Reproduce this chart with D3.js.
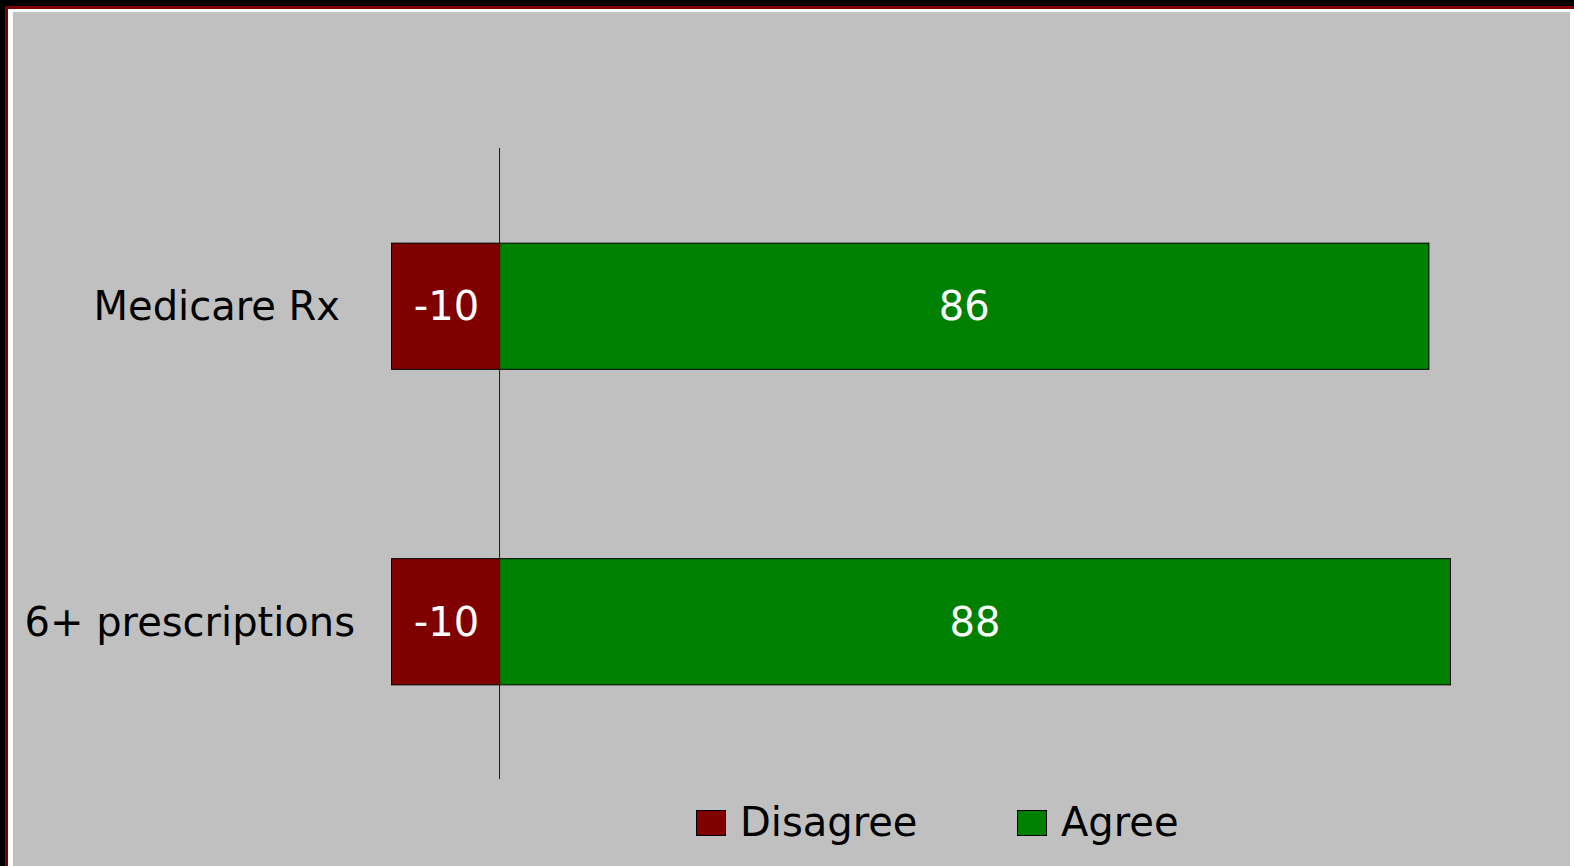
<!DOCTYPE html>
<html>
<head>
<meta charset="utf-8">
<script src="https://cdn.jsdelivr.net/npm/d3@7"></script>
<style>
  html, body { margin: 0; padding: 0; background: #000; }
  svg { display: block; }
  text { font-family: "DejaVu Sans", Verdana, sans-serif; }
</style>
</head>
<body>
<svg id="chart" width="1574" height="866"></svg>
<script>
// ---- data ----
const categories = ["Medicare Rx", "6+ prescriptions"];
const disagreeValues = [-10, -10];
const agreeValues = [86, 88];
const seriesNames = ["Disagree", "Agree"];
const seriesColors = ["#800000", "#008000"];

// ---- layout ----
const W = 1574, H = 866;
const svg = d3.select("#chart");

// frame
svg.append("rect").attr("x", 0).attr("y", 0).attr("width", W).attr("height", H).attr("fill", "#000");
svg.append("rect").attr("x", 5).attr("y", 6).attr("width", W).attr("height", H).attr("fill", "#800000");
svg.append("rect").attr("x", 8).attr("y", 9).attr("width", W).attr("height", H).attr("fill", "#ffffff");
svg.append("rect").attr("x", 13).attr("y", 12).attr("width", 1557).attr("height", H).attr("fill", "#c0c0c0");

const x = d3.scaleLinear().domain([-10, 88]).range([391.5, 1450.5]);
const y = d3.scaleBand().domain(categories).range([148, 779]).paddingInner(0.6).paddingOuter(0.3);

const rows = categories.map((c, i) => ({ cat: c, dis: disagreeValues[i], agr: agreeValues[i] }));

const g = svg.append("g");

// disagree bars
g.selectAll("rect.dis").data(rows).join("rect")
  .attr("class", "dis")
  .attr("x", d => x(Math.min(0, d.dis)))
  .attr("y", d => y(d.cat) + 0.5)
  .attr("width", d => Math.abs(x(d.dis) - x(0)))
  .attr("height", y.bandwidth())
  .attr("fill", seriesColors[0])
  .attr("stroke", "#000").attr("stroke-width", 1);

// agree bars
g.selectAll("rect.agr").data(rows).join("rect")
  .attr("class", "agr")
  .attr("x", x(0))
  .attr("y", d => y(d.cat) + 0.5)
  .attr("width", d => x(d.agr) - x(0))
  .attr("height", y.bandwidth())
  .attr("fill", seriesColors[1])
  .attr("stroke", "#000").attr("stroke-width", 1);

// zero axis line
g.append("line")
  .attr("x1", x(0)).attr("x2", x(0))
  .attr("y1", 148).attr("y2", 779)
  .attr("stroke", "#1a1a1a").attr("stroke-width", 1);

// value labels
g.selectAll("text.vdis").data(rows).join("text")
  .attr("class", "vdis")
  .attr("x", d => (x(d.dis) + x(0)) / 2 + 1)
  .attr("y", d => y(d.cat) + y.bandwidth() / 2)
  .attr("dy", "0.36em")
  .attr("text-anchor", "middle")
  .attr("fill", "#fff").attr("font-size", 40)
  .text(d => d.dis);

g.selectAll("text.vagr").data(rows).join("text")
  .attr("class", "vagr")
  .attr("x", d => (x(d.agr) + x(0)) / 2)
  .attr("y", d => y(d.cat) + y.bandwidth() / 2)
  .attr("dy", "0.36em")
  .attr("text-anchor", "middle")
  .attr("fill", "#fff").attr("font-size", 40)
  .text(d => d.agr);

// category labels
const labelEnd = [340, 355];
g.selectAll("text.cat").data(rows).join("text")
  .attr("class", "cat")
  .attr("x", (d, i) => labelEnd[i])
  .attr("y", d => y(d.cat) + y.bandwidth() / 2)
  .attr("dy", "0.36em")
  .attr("text-anchor", "end")
  .attr("fill", "#000").attr("font-size", 40)
  .text(d => d.cat);

// legend
const legendX = [696, 1017];
const lg = svg.append("g");
seriesNames.forEach((name, i) => {
  lg.append("rect")
    .attr("x", legendX[i] + 0.5).attr("y", 810.5)
    .attr("width", 29).attr("height", 25)
    .attr("fill", seriesColors[i]).attr("stroke", "#000").attr("stroke-width", 1);
  lg.append("text")
    .attr("x", legendX[i] + 44).attr("y", 836)
    .attr("fill", "#000").attr("font-size", 40)
    .text(name);
});
</script>
</body>
</html>
